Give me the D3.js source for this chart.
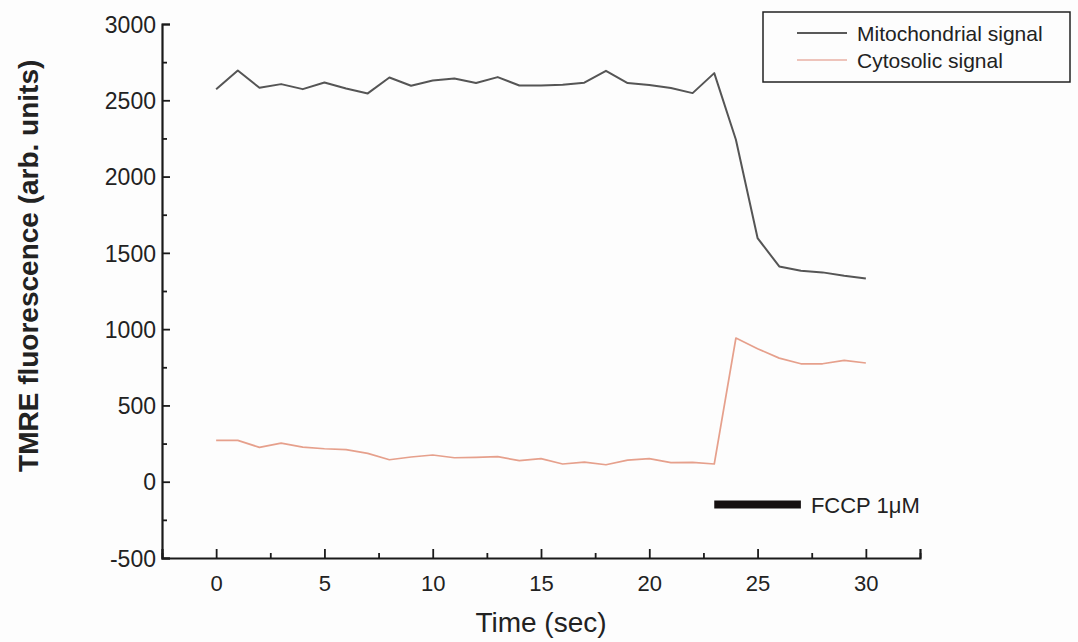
<!DOCTYPE html>
<html>
<head>
<meta charset="utf-8">
<script src="https://cdn.jsdelivr.net/npm/d3@7"></script>
<style>
  body { margin: 0; background: #fdfdfd; }
  svg { display: block; font-family: "Liberation Sans", Arial, sans-serif; }
</style>
</head>
<body>
<div id="graphic"></div>
<script>
// time points (sec)
const times = d3.range(0, 31);

// TMRE fluorescence
const mitoValues = [2573, 2695, 2582, 2606, 2573, 2617, 2577, 2545, 2649, 2595,
    2630, 2643, 2613, 2652, 2597, 2597, 2602, 2615, 2693, 2613,
    2600, 2580, 2547, 2678, 2241, 1597, 1411, 1383, 1372, 1350, 1332];
const cytoValues = [271, 271, 225, 253, 227, 216, 210, 186, 144, 162,
    175, 157, 159, 164, 138, 151, 116, 129, 111, 142,
    151, 125, 127, 116, 942, 872, 810, 773, 773, 795, 778];

const seriesNames = ["Mitochondrial signal", "Cytosolic signal"];
const seriesColors = ["#555555", "#e6a08c"];

const xTicks = [0, 5, 10, 15, 20, 25, 30];
const yTicks = [-500, 0, 500, 1000, 1500, 2000, 2500, 3000];

// FCCP application bar
const fccpStart = 23, fccpEnd = 27, fccpLevel = -150;
const fccpLabel = "FCCP 1\u03bcM";

const W = 1078, H = 642;
const margin = {left: 162, right: 158, top: 24, bottom: 84};

const x = d3.scaleLinear().domain([-2.5, 32.5]).range([margin.left, W - margin.right]);
const y = d3.scaleLinear().domain([-500, 3000]).range([H - margin.bottom, margin.top]);

const svg = d3.create("svg").attr("width", W).attr("height", H);
svg.append("rect").attr("width", W).attr("height", H).attr("fill", "#fdfdfd");

// AXES (ticks point inward), plain hyphen for negatives
const plain = d => String(d);
const xAxis = svg.append("g")
    .attr("transform", `translate(0,${y(-500)})`)
    .call(d3.axisBottom(x).tickValues(xTicks).tickSize(-9).tickPadding(17).tickFormat(plain));
const xMinor = svg.append("g")
    .attr("transform", `translate(0,${y(-500)})`)
    .call(d3.axisBottom(x).tickValues(d3.range(-2.5, 33, 5)).tickSize(-5).tickFormat(""));
const yAxis = svg.append("g")
    .attr("transform", `translate(${x(-2.5)},0)`)
    .call(d3.axisLeft(y).tickValues(yTicks).tickSize(-8).tickPadding(6).tickFormat(plain));
const yMinor = svg.append("g")
    .attr("transform", `translate(${x(-2.5)},0)`)
    .call(d3.axisLeft(y).tickValues(d3.range(-250, 3000, 500)).tickSize(-5).tickFormat(""));

[xAxis, xMinor, yAxis, yMinor].forEach(g => {
    g.select(".domain").attr("stroke", "#1a1a1a").attr("stroke-width", 2.2);
    g.selectAll(".tick line").attr("stroke", "#1a1a1a").attr("stroke-width", 1.8);
    g.selectAll(".tick text").attr("fill", "#222").style("font-size", "22px");
});
xMinor.select(".domain").remove();
yMinor.select(".domain").remove();
yAxis.selectAll(".tick text").attr("dy", "0.36em").style("font-size", "23px");

// LINES
const line = d3.line().x((d, i) => x(times[i])).y(d => y(d));
[mitoValues, cytoValues].forEach((vals, k) => {
    svg.append("path")
        .datum(vals)
        .attr("fill", "none")
        .attr("stroke", seriesColors[k])
        .attr("stroke-width", k === 0 ? 2 : 1.7)
        .attr("stroke-linejoin", "round")
        .attr("d", line);
});

// FCCP BAR
svg.append("line")
    .attr("x1", x(fccpStart)).attr("x2", x(fccpEnd))
    .attr("y1", y(fccpLevel)).attr("y2", y(fccpLevel))
    .attr("stroke", "#151010").attr("stroke-width", 8);
svg.append("text")
    .attr("x", x(fccpEnd) + 10).attr("y", y(fccpLevel))
    .attr("dy", "0.36em")
    .attr("fill", "#222")
    .style("font-size", "22px")
    .text(fccpLabel);

// LEGEND
const legend = svg.append("g").attr("transform", "translate(763,12)");
legend.append("rect")
    .attr("width", 307).attr("height", 70)
    .attr("fill", "#fdfdfd").attr("stroke", "#222").attr("stroke-width", 1.5);
seriesNames.forEach((name, i) => {
    const cy = 21 + i * 27;
    legend.append("line")
        .attr("x1", 34).attr("x2", 84).attr("y1", cy).attr("y2", cy)
        .attr("stroke", i === 0 ? "#222" : "#e8b0a4").attr("stroke-width", 1.6);
    legend.append("text")
        .attr("x", 94).attr("y", cy).attr("dy", "0.36em")
        .attr("fill", "#222").style("font-size", "21px")
        .text(name);
});

// AXIS TITLES
svg.append("text")
    .attr("x", x(15)).attr("y", 632)
    .attr("text-anchor", "middle").attr("fill", "#222")
    .style("font-size", "28px")
    .text("Time (sec)");
svg.append("text")
    .attr("transform", `translate(38,${y(1415)}) rotate(-90)`)
    .attr("text-anchor", "middle").attr("fill", "#222")
    .style("font-size", "28px").style("font-weight", "bold")
    .text("TMRE fluorescence (arb. units)");

document.getElementById("graphic").append(svg.node());
</script>
</body>
</html>
